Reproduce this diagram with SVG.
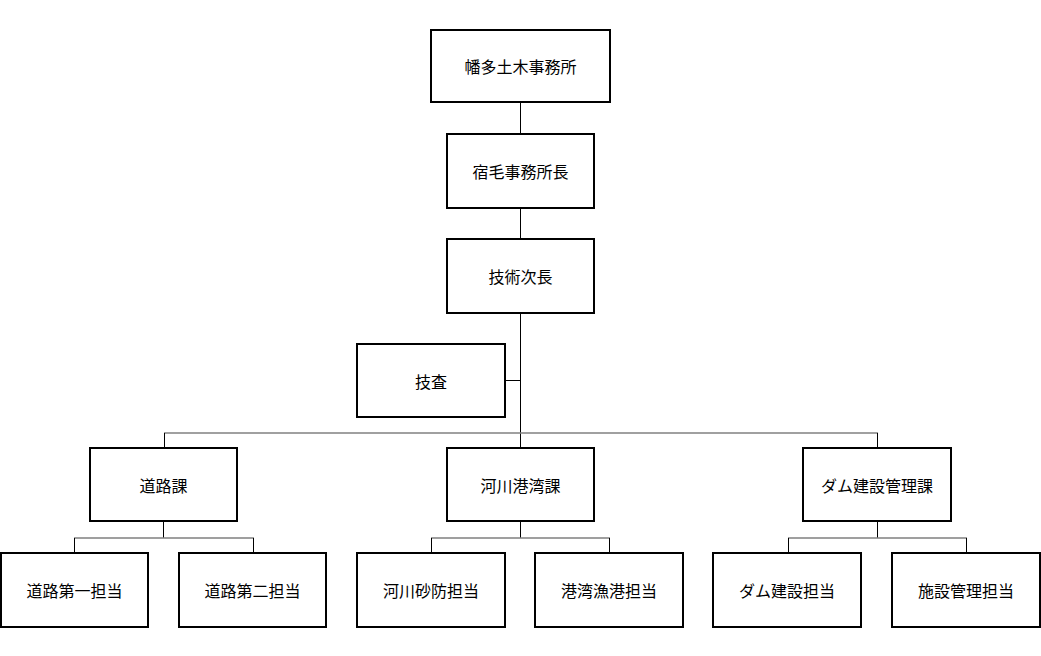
<svg xmlns="http://www.w3.org/2000/svg" width="1041" height="656" viewBox="0 0 1041 656">
<style>
.box{fill:#fff;stroke:#000;stroke-width:2}
.t{font-family:"Noto Sans CJK JP","Noto Sans CJK SC",sans-serif;font-size:16px;fill:#000;text-anchor:middle;dominant-baseline:central}
.v{stroke:#000;stroke-width:1;fill:none}
.h{stroke:#808080;stroke-width:1.5;fill:none}
</style>
<rect width="1041" height="656" fill="#fff"/>
<g id="connectors">
<path class="v" d="M520.5 102V134M520.5 208V239M520.5 313V448M505 380.5H520.5"/>
<path class="h" d="M164 433H878"/>
<path class="v" d="M164.5 433V448M877.5 433V448"/>
<path class="v" d="M163.5 521V538M520.5 521V538M877.5 521V538"/>
<path class="h" d="M74 538H254M431 538H610M788 538H967"/>
<path class="v" d="M74.5 538V553M253.5 538V553M431.5 538V553M609.5 538V553M788.5 538V553M966.5 538V553"/>
</g>
<g id="n1"><rect class="box" x="431" y="30" width="179" height="72"/><text class="t" x="520.5" y="66">幡多土木事務所</text></g>
<g id="n2"><rect class="box" x="447" y="134" width="147" height="74"/><text class="t" x="520.5" y="171">宿毛事務所長</text></g>
<g id="n3"><rect class="box" x="447" y="239" width="147" height="74"/><text class="t" x="520.5" y="276">技術次長</text></g>
<g id="n4"><rect class="box" x="357" y="344" width="148" height="73"/><text class="t" x="431" y="380.5">技査</text></g>
<g id="n5"><rect class="box" x="90" y="448" width="147" height="73"/><text class="t" x="163.5" y="484.5">道路課</text></g>
<g id="n6"><rect class="box" x="447" y="448" width="147" height="73"/><text class="t" x="520.5" y="484.5">河川港湾課</text></g>
<g id="n7"><rect class="box" x="803" y="448" width="148" height="73"/><text class="t" x="877" y="484.5">ダム建設管理課</text></g>
<g id="n8"><rect class="box" x="1" y="553" width="147" height="74"/><text class="t" x="74.5" y="590">道路第一担当</text></g>
<g id="n9"><rect class="box" x="179" y="553" width="147" height="74"/><text class="t" x="252.5" y="590">道路第二担当</text></g>
<g id="n10"><rect class="box" x="357" y="553" width="148" height="74"/><text class="t" x="431" y="590">河川砂防担当</text></g>
<g id="n11"><rect class="box" x="535" y="553" width="148" height="74"/><text class="t" x="609" y="590">港湾漁港担当</text></g>
<g id="n12"><rect class="box" x="713" y="553" width="148" height="74"/><text class="t" x="787" y="590">ダム建設担当</text></g>
<g id="n13"><rect class="box" x="892" y="553" width="148" height="74"/><text class="t" x="966" y="590">施設管理担当</text></g>
</svg>
